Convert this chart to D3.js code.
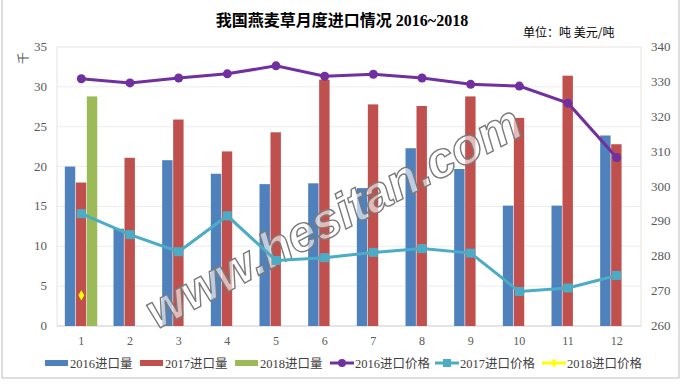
<!DOCTYPE html>
<html>
<head>
<meta charset="utf-8">
<script src="https://cdn.jsdelivr.net/npm/d3@7"></script>
<style>
  body { margin: 0; background: #fff; }
  svg text { font-family: "Liberation Serif", "Noto Sans CJK SC", serif; }
</style>
</head>
<body>
<div id="chart"></div>
<script>
// data (quantities in 千吨, prices in 美元/吨)
var months = ["1","2","3","4","5","6","7","8","9","10","11","12"];
var qty2016 = [20, 12.2, 20.8, 19.1, 17.8, 17.9, 17.3, 22.3, 19.7, 15.1, 15.1, 23.9];
var qty2017 = [18, 21.1, 25.9, 21.9, 24.3, 30.9, 27.8, 27.6, 28.8, 26.1, 31.4, 22.8];
var qty2018 = [28.8];
var price2016 = [330.9, 329.7, 331.1, 332.3, 334.6, 331.6, 332.2, 331.1, 329.3, 328.8, 323.9, 308.3];
var price2017 = [292.2, 286.2, 281.3, 291.6, 278.8, 279.6, 281.1, 282.2, 280.9, 269.9, 270.9, 274.5];
var price2018 = [268.8];
var leftTicks = [0, 5, 10, 15, 20, 25, 30, 35];
var rightTicks = [260, 270, 280, 290, 300, 310, 320, 330, 340];

var W = 682, H = 384;
var plotL = 57, plotR = 641, plotT = 47, plotB = 326;

var svg = d3.select("#chart").append("svg")
    .attr("width", W)
    .attr("height", H);

// spreadsheet frame behind the chart
svg.append("rect").attr("width", W).attr("height", H).attr("fill", "#fff");
svg.append("rect")
    .attr("x", 2).attr("y", -1)
    .attr("width", 677).attr("height", 379)
    .attr("fill", "#fff")
    .attr("stroke", "#bfbfbf");

var x = d3.scaleBand().domain(months).range([plotL, plotR]).padding(0);
var xs = d3.scaleBand().domain([0, 1, 2]).range([x.bandwidth()/2 - 16.5, x.bandwidth()/2 + 16.5]);
var yL = d3.scaleLinear().domain([0, 35]).range([plotB, plotT]);
var yR = d3.scaleLinear().domain([260, 340]).range([plotB, plotT]);

// gridlines
svg.append("g").selectAll("line")
  .data(leftTicks.filter(function(d){ return d > 0 && d < 35; }))
  .enter().append("line")
    .attr("x1", plotL).attr("x2", plotR)
    .attr("y1", function(d){ return yL(d); })
    .attr("y2", function(d){ return yL(d); })
    .attr("stroke", "#ececec");

// plot area border
svg.append("rect")
    .attr("x", plotL).attr("y", plotT)
    .attr("width", plotR - plotL).attr("height", plotB - plotT)
    .attr("fill", "none")
    .attr("stroke", "#e6e4dc");
svg.append("line")
    .attr("x1", plotL).attr("x2", plotR)
    .attr("y1", plotB).attr("y2", plotB)
    .attr("stroke", "#d9d9d9");

// bars
var barSeries = [
  {vals: qty2016, color: "#4f81bd"},
  {vals: qty2017, color: "#c0504d"},
  {vals: qty2018, color: "#9bbb59"}
];
barSeries.forEach(function(s, si){
  svg.append("g").selectAll("rect")
    .data(s.vals)
    .enter().append("rect")
      .attr("x", function(d, i){ return x(months[i]) + xs(si); })
      .attr("width", xs.bandwidth() - 0.6)
      .attr("y", function(d){ return yL(d); })
      .attr("height", function(d){ return plotB - yL(d); })
      .attr("fill", s.color);
});

// watermark
svg.append("text")
    .attr("transform", "translate(335,220) rotate(-28)")
    .attr("text-anchor", "middle")
    .attr("dominant-baseline", "middle")
    .style("font-family", "'Liberation Sans', Arial, sans-serif")
    .style("font-style", "italic")
    .style("font-weight", "bold")
    .style("font-size", "50px")
    .attr("textLength", 418)
    .attr("fill", "rgba(255,255,255,0.6)")
    .attr("stroke", "#7a7a7a")
    .attr("stroke-width", 1.4)
    .text("www.hesitan.com");

var cx = function(d, i){ return x(months[i]) + x.bandwidth()/2; };
var line = d3.line().x(cx).y(function(d){ return yR(d); });

// 2016 price
svg.append("path")
    .datum(price2016)
    .attr("d", line)
    .attr("fill", "none")
    .attr("stroke", "#7030a0")
    .attr("stroke-width", 3);
svg.append("g").selectAll("circle")
  .data(price2016)
  .enter().append("circle")
    .attr("cx", cx)
    .attr("cy", function(d){ return yR(d); })
    .attr("r", 4.5)
    .attr("fill", "#7030a0");

// 2017 price
svg.append("path")
    .datum(price2017)
    .attr("d", line)
    .attr("fill", "none")
    .attr("stroke", "#4bacc6")
    .attr("stroke-width", 3);
svg.append("g").selectAll("rect")
  .data(price2017)
  .enter().append("rect")
    .attr("x", function(d, i){ return cx(d, i) - 4.5; })
    .attr("y", function(d){ return yR(d) - 4.5; })
    .attr("width", 9).attr("height", 9)
    .attr("fill", "#4bacc6");

// 2018 price
svg.append("g").selectAll("path")
  .data(price2018)
  .enter().append("path")
    .attr("d", d3.symbol().type(d3.symbolDiamond).size(30))
    .attr("transform", function(d, i){ return "translate(" + cx(d, i) + "," + yR(d) + ")"; })
    .attr("fill", "#ffff00");

// axis labels
svg.append("g").selectAll("text")
  .data(leftTicks)
  .enter().append("text")
    .attr("x", 47)
    .attr("y", function(d){ return yL(d) + 4; })
    .attr("text-anchor", "end")
    .style("font-size", "13px")
    .attr("fill", "#595959")
    .text(function(d){ return d; });

svg.append("g").selectAll("text")
  .data(rightTicks)
  .enter().append("text")
    .attr("x", 651)
    .attr("y", function(d){ return yR(d) + 4; })
    .style("font-size", "13px")
    .attr("fill", "#595959")
    .text(function(d){ return d; });

svg.append("g").selectAll("text")
  .data(months)
  .enter().append("text")
    .attr("x", function(d){ return x(d) + x.bandwidth()/2; })
    .attr("y", 345)
    .attr("text-anchor", "middle")
    .style("font-size", "12px")
    .attr("fill", "#595959")
    .text(function(d){ return d; });

svg.append("text")
    .attr("transform", "translate(28,58) rotate(-90)")
    .attr("text-anchor", "middle")
    .style("font-family", "'Noto Sans CJK SC', sans-serif")
    .style("font-size", "12px")
    .attr("fill", "#595959")
    .text("千");

// titles
svg.append("text")
    .attr("x", 342).attr("y", 26)
    .attr("text-anchor", "middle")
    .style("font-size", "16px")
    .style("font-weight", "bold")
    .attr("fill", "#000")
    .text("我国燕麦草月度进口情况 2016~2018");

svg.append("text")
    .attr("x", 523).attr("y", 37)
    .style("font-family", "'Noto Sans CJK SC', sans-serif")
    .style("font-size", "12px")
    .attr("fill", "#000")
    .text("单位：吨  美元/吨");

// legend
var legend = [
  {name: "2016进口量", color: "#4f81bd", kind: "bar", x: 45},
  {name: "2017进口量", color: "#c0504d", kind: "bar", x: 140},
  {name: "2018进口量", color: "#9bbb59", kind: "bar", x: 235},
  {name: "2016进口价格", color: "#7030a0", kind: "circle", x: 330},
  {name: "2017进口价格", color: "#4bacc6", kind: "square", x: 435},
  {name: "2018进口价格", color: "#ffff00", kind: "diamond", x: 542}
];
var ly = 363;
var lg = svg.append("g").selectAll("g")
  .data(legend)
  .enter().append("g")
    .attr("transform", function(d){ return "translate(" + d.x + "," + ly + ")"; });
lg.each(function(d){
  var g = d3.select(this);
  if (d.kind == "bar") {
    g.append("rect").attr("x", 0).attr("y", -3).attr("width", 23).attr("height", 6).attr("fill", d.color);
  } else {
    g.append("line").attr("x1", 0).attr("x2", 24).attr("y1", 0).attr("y2", 0)
      .attr("stroke", d.color).attr("stroke-width", 3);
    if (d.kind == "circle") g.append("circle").attr("cx", 12).attr("cy", 0).attr("r", 4).attr("fill", d.color);
    if (d.kind == "square") g.append("rect").attr("x", 8).attr("y", -4).attr("width", 8).attr("height", 8).attr("fill", d.color);
    if (d.kind == "diamond") g.append("path").attr("d", d3.symbol().type(d3.symbolDiamond).size(26)).attr("transform", "translate(12,0)").attr("fill", d.color);
  }
  g.append("text")
    .attr("x", 25).attr("y", 4.5)
    .style("font-size", "12.5px")
    .attr("fill", "#404040")
    .text(d.name);
});
</script>
</body>
</html>
